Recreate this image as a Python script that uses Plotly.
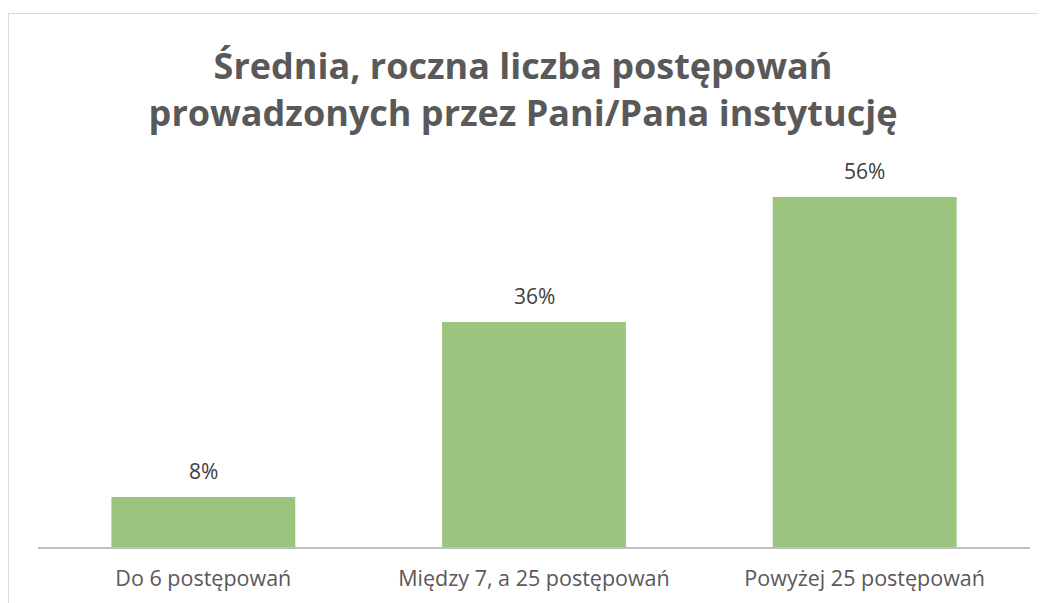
import plotly.graph_objects as go

categories = ["Do 6 postępowań", "Między 7, a 25 postępowań", "Powyżej 25 postępowań"]
values = [8, 36, 56]
labels = ["8%", "36%", "56%"]
title_text = "Średnia, roczna liczba postępowań<br>prowadzonych przez Pani/Pana instytucję"

# The page body has an 8px margin, so figure pixel = window pixel - 8
OFF = 8
W, H = 1046, 603
plot_left, plot_right, plot_top, plot_bottom = 38 - OFF, 1030 - OFF, 172 - OFF, 547 - OFF
ml, mr, mt, mb = plot_left, W - plot_right, plot_top, H - plot_bottom
pw, ph = W - ml - mr, H - mt - mb

fig = go.Figure()
fig.add_trace(go.Bar(x=categories, y=values, marker=dict(color="#9BC57F", line=dict(width=0)),
                     hoverinfo="skip"))

for c, v, t in zip(categories, values, labels):
    fig.add_annotation(x=c, y=v, text=t, showarrow=False, yanchor="middle", yshift=26,
                       font=dict(family="Open Sans", size=21, color="#404040"))

def px_x(p):
    return (p - OFF - ml) / pw

def px_y(p):
    return (H - mb - (p - OFF)) / ph

fig.add_shape(type="line", xref="paper", yref="paper", x0=px_x(8.5), x1=px_x(1070),
              y0=px_y(13.5), y1=px_y(13.5), line=dict(color="#D9D9D9", width=1))
fig.add_shape(type="line", xref="paper", yref="paper", x0=px_x(8.5), x1=px_x(8.5),
              y0=px_y(13.5), y1=px_y(640), line=dict(color="#D9D9D9", width=1))

fig.update_layout(
    width=W, height=H,
    margin=dict(l=ml, r=mr, t=mt, b=mb),
    paper_bgcolor="white", plot_bgcolor="white",
    bargap=0.444,
    showlegend=False,
    title=dict(text=title_text, x=(523 - OFF) / W, xanchor="center", xref="container",
               y=1 - (79 - OFF) / H, yanchor="middle", yref="container",
               font=dict(family="Open Sans", size=36, color="#595959", weight="bold")),
    xaxis=dict(showline=True, linecolor="#BFBFBF", linewidth=2, ticks="",
               ticklabelstandoff=11,
               tickfont=dict(family="Open Sans", size=21.5, color="#595959"),
               showgrid=False, zeroline=False, fixedrange=True),
    yaxis=dict(range=[0, 60], visible=False, showgrid=False, zeroline=False, fixedrange=True),
    font=dict(family="Open Sans"),
)

fig.write_html("out.html")
